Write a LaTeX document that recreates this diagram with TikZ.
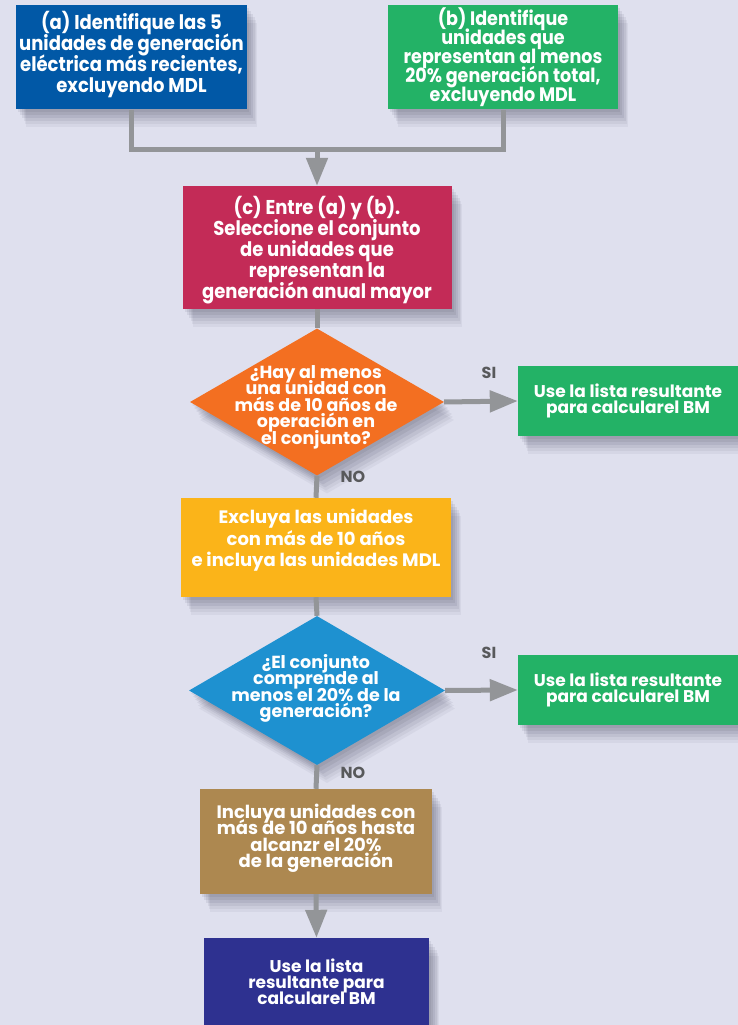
\documentclass[tikz,border=0pt]{standalone}
\usepackage{fontspec}
\setmainfont{Poppins}
\newfontfamily\condfont[FakeStretch=0.9]{Poppins}
\usetikzlibrary{shapes.geometric,arrows.meta,shadows}
\lineskiplimit=-30pt
\definecolor{bg}{HTML}{DFE0EE}
\definecolor{cA}{HTML}{0158A6}
\definecolor{cG}{HTML}{23B266}
\definecolor{cC}{HTML}{C32B57}
\definecolor{cO}{HTML}{F36F21}
\definecolor{cY}{HTML}{FBB419}
\definecolor{cB}{HTML}{1E91D0}
\definecolor{cT}{HTML}{AD8850}
\definecolor{cI}{HTML}{2E3190}
\definecolor{cg}{HTML}{939598}
\definecolor{lab}{HTML}{58595B}
\definecolor{shc}{HTML}{2A2B45}
\begin{document}
\begin{tikzpicture}[x=1pt,y=1pt,
  shad/.style={
    general shadow={fill=shc, opacity=0.08, shadow xshift=2pt, shadow yshift=-3pt},
    general shadow={fill=shc, opacity=0.08, shadow xshift=4pt, shadow yshift=-6pt},
    general shadow={fill=shc, opacity=0.08, shadow xshift=6pt, shadow yshift=-9pt},
    general shadow={fill=shc, opacity=0.07, shadow xshift=8pt, shadow yshift=-12pt},
    general shadow={fill=shc, opacity=0.06, shadow xshift=9pt, shadow yshift=-15pt},
    general shadow={fill=shc, opacity=0.05, shadow xshift=10pt, shadow yshift=-18pt}},
  box/.style={rectangle, inner sep=0pt, text=white, align=center, shad},
  cond/.style={font=\condfont\bfseries\fontsize{20}{21}\selectfont},
  dtext/.style={font=\bfseries\fontsize{17.5}{16.5}\selectfont},
  txt/.style={text=white, align=center, inner sep=0pt},
  diam/.style={diamond, inner sep=0pt, shad},
  lbl/.style={text=lab, font=\bfseries\fontsize{16}{16}\selectfont, inner sep=0pt},
  conn/.style={draw=cg, line width=5pt},
  arr/.style={conn, -{Triangle[length=28pt,width=21pt]}}]
\fill[bg] (0,0) rectangle (738,1025);
\useasboundingbox (0,0) rectangle (738,1025);

\node[box, fill=cA, minimum width=231pt, minimum height=104pt,
  label={[txt, cond, yshift=3pt]center:{(a) Identifique las 5\\unidades de generación\\eléctrica más recientes,\\excluyendo MDL}}] (a) at (131.5,967.5) {};
\node[box, fill=cG, minimum width=230pt, minimum height=104pt,
  label={[txt, font=\condfont\bfseries\fontsize{19.5}{19}\selectfont]center:{(b) Identifique\\unidades que\\representan al menos\\20\% generación total,\\excluyendo MDL}}] (b) at (503,967.5) {};
\node[box, fill=cC, minimum width=269pt, minimum height=123pt,
  label={[txt, cond, yshift=-3pt]center:{(c) Entre (a) y (b).\\Seleccione el conjunto\\de unidades que\\representan la\\generación anual mayor}}] (c) at (317,777.5) {};

\node[diam, fill=cO, minimum width=254pt, minimum height=147pt,
  label={[txt, dtext, yshift=-5pt, xshift=-1pt]center:{¿Hay al menos\\una unidad con\\más de 10 años de\\operación en\\el conjunto?}}] (d1) at (317,623) {};
\node[box, fill=cG, minimum width=220pt, minimum height=70pt, font=\bfseries\fontsize{17}{16}\selectfont] (g1) at (628,624) {Use la lista resultante\\para calcularel BM};

\node[box, fill=cY, minimum width=270pt, minimum height=99pt,
  label={[txt, font=\bfseries\fontsize{18}{21.5}\selectfont, yshift=7pt]center:{Excluya las unidades\\con más de 10 años\\e incluya las unidades MDL}}] (ex) at (316,477.5) {};

\node[diam, fill=cB, minimum width=256pt, minimum height=149pt,
  label={[txt, dtext, yshift=2pt, xshift=-1pt]center:{¿El conjunto\\comprende al\\menos el 20\% de la\\generación?}}] (d2) at (317,334.5) {};
\node[box, fill=cG, minimum width=220pt, minimum height=70pt, font=\bfseries\fontsize{17}{16}\selectfont] (g2) at (628,335) {Use la lista resultante\\para calcularel BM};

\node[box, fill=cT, minimum width=232pt, minimum height=105pt,
  label={[txt, font=\bfseries\fontsize{18}{16.5}\selectfont, yshift=3pt]center:{Incluya unidades con\\más de 10 años hasta\\alcanzr el 20\%\\de la generación}}] (inc) at (316,183.5) {};
\node[box, fill=cI, minimum width=225pt, minimum height=87pt, font=\bfseries\fontsize{17}{16}\selectfont] (fin) at (316.5,43.5) {Use la lista\\resultante para\\calcularel BM};

\node[lbl] (si1) at (489,652) {SI};
\node[lbl] (no1) at (353,548) {NO};
\node[lbl] (si2) at (489,372) {SI};
\node[lbl] (no2) at (353,252) {NO};

\coordinate (j) at (317,875);
\draw[conn] (a.south) |- (j) -| (b.south);
\draw[arr] (j) -- (c.north);
\draw[conn] (c.south) -- (d1.north);
\draw[arr] (d1.east) -- (g1.west);
\draw[conn] (d1.south) -- (ex.north);
\draw[conn] (ex.south) -- (d2.north);
\draw[arr] (d2.east) -- (g2.west);
\draw[conn] (d2.south) -- (inc.north);
\draw[arr] (inc.south) -- (fin.north);
\end{tikzpicture}
\end{document}
